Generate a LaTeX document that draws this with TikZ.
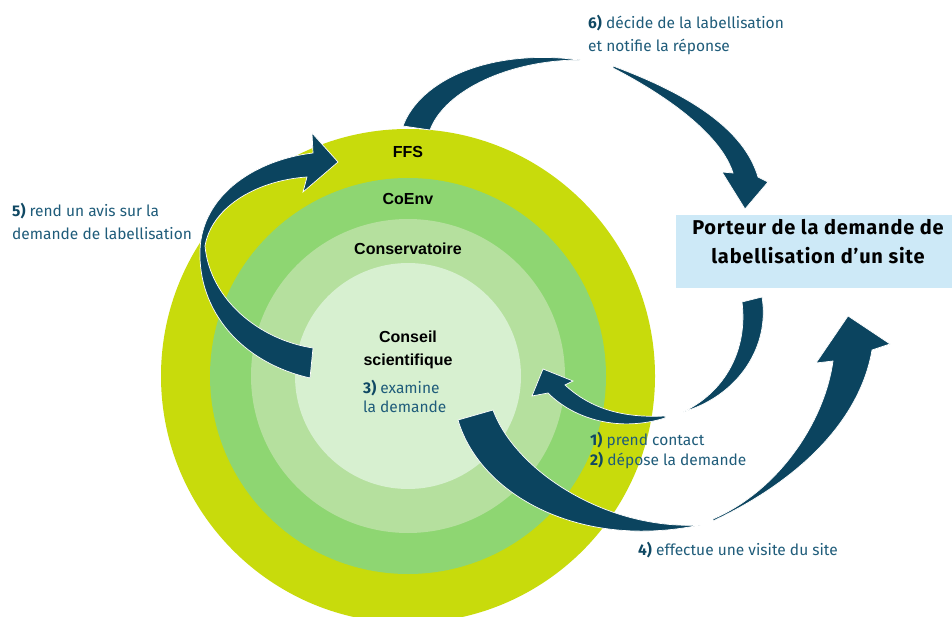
\documentclass[tikz,border=0pt]{standalone}
\usepackage{fontspec}
\setmainfont{Fira Sans}
\newfontfamily\arialfam{Liberation Sans}
\newfontfamily\boxfont{Fira Sans}[LetterSpace=4]
\definecolor{ringA}{HTML}{C8DB0C}
\definecolor{ringB}{HTML}{8ED672}
\definecolor{ringC}{HTML}{B5E09E}
\definecolor{ringD}{HTML}{D7F0D0}
\definecolor{boxc}{HTML}{CDE9F7}
\definecolor{arrowc}{HTML}{0B445F}
\definecolor{labc}{HTML}{1F5C7A}
\definecolor{numc}{HTML}{0F4863}
\tikzset{
  bigarrow/.style={fill=arrowc, draw=white, line width=0.7pt, line join=miter},
  lab/.style={anchor=base west, inner sep=0pt, text=labc, font=\fontsize{15.5}{18}\selectfont},
  ringlab/.style={anchor=base, inner sep=0pt, text=black, font=\arialfam\bfseries\fontsize{16}{19}\selectfont},
  porteurbox/.style={fill=boxc, minimum width=284pt, minimum height=73pt, inner sep=0pt},
  boxtext/.style={anchor=base, inner sep=0pt, text=black, font=\boxfont\bfseries\fontsize{20}{24}\selectfont},
}
\newcommand{\stepnum}[1]{\textbf{\textcolor{numc}{#1}}}
\begin{document}
\begin{tikzpicture}[x=1pt,y=-1pt]
\useasboundingbox (0,0) rectangle (952,617);
\clip (0,0) rectangle (952,617);
\fill[white] (0,0) rectangle (952,617);
\coordinate (c) at (408,376);
\fill[ringA] (c) circle (247pt);
\fill[ringB] (c) circle (198pt);
\fill[ringC] (c) circle (157pt);
\fill[ringD] (c) circle (113pt);

% box
\node[porteurbox] (porteur) at (818,251.5) {};
\node[boxtext] (porteurA) at (818,235) {Porteur de la demande de};
\node[boxtext] (porteurB) at (818,264) {labellisation d’un site};

% arrow 6 (FFS -> porteur)
\path[bigarrow] (403,126) .. controls (420,80) and (490,48) .. (580,60)
  .. controls (510,60) and (445,90) .. (430,130) -- cycle;
\path[bigarrow] (613,66) .. controls (672,88) and (742,122) .. (758,177)
  -- (768,182) -- (745,209) -- (722,172) -- (733,173)
  .. controls (722,138) and (675,100) .. (613,68) -- cycle;

% arrow 5 (conseil -> FFS)
\path[bigarrow] (310,378) .. controls (240,362) and (198,310) .. (200,250)
  .. controls (202,195) and (255,160) .. (313,153)
  -- (312,133) -- (338,162) -- (303,192) -- (307,177)
  .. controls (260,180) and (212,205) .. (205,246)
  .. controls (210,300) and (260,340) .. (313,348) -- cycle;

% arrow 1/2 (porteur -> conseil)
\path[bigarrow] (762,297) .. controls (770,345) and (740,395) .. (683,412)
  .. controls (725,392) and (748,350) .. (742,302) -- cycle;
\path[bigarrow] (665,416) .. controls (625,418) and (592,410) .. (565,385)
  -- (573,381) -- (543,369) -- (532,396) -- (548,393)
  .. controls (575,420) and (620,432) .. (665,418) -- cycle;

% arrow 4 (conseil -> porteur)
\path[bigarrow] (458,420) .. controls (480,495) and (580,550) .. (700,525)
  .. controls (605,530) and (515,470) .. (493,410) -- cycle;
\path[bigarrow] (713,521) .. controls (800,480) and (860,420) .. (872,350)
  -- (890,344) -- (848,316) -- (816,363) -- (833,361)
  .. controls (825,420) and (780,490) .. (713,519) -- cycle;

% ring labels
\node[ringlab] (ffs) at (408,158) {FFS};
\node[ringlab] (coenv) at (408,205) {CoEnv};
\node[ringlab] (conserv) at (408,255) {Conservatoire};
\node[ringlab] (conseilA) at (408,342) {Conseil};
\node[ringlab] (conseilB) at (408,365) {scientifique};

% step labels
\node[lab] (s3a) at (363,393) {\stepnum{3)} examine};
\node[lab] (s3b) at (363,412) {la demande};
\node[lab] (s6a) at (588,29) {\stepnum{6)} décide de la labellisation};
\node[lab] (s6b) at (588,52) {et notifie la réponse};
\node[lab] (s5a) at (12,217) {\stepnum{5)} rend un avis sur la};
\node[lab] (s5b) at (12,240) {demande de labellisation};
\node[lab] (s1) at (590,445) {\stepnum{1)} prend contact};
\node[lab] (s2) at (590,465) {\stepnum{2)} dépose la demande};
\node[lab] (s4) at (638,555) {\stepnum{4)} effectue une visite du site};
\end{tikzpicture}
\end{document}
